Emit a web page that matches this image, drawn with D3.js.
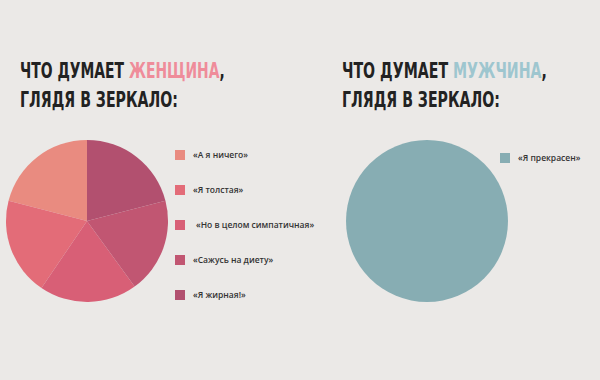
<!DOCTYPE html>
<html>
<head>
<meta charset="utf-8">
<script src="https://cdn.jsdelivr.net/npm/d3@7"></script>
<style>
  html, body { margin: 0; padding: 0; background: #ebe9e7; }
  svg { display: block; }
  .title { font-family: "DejaVu Sans", sans-serif; font-weight: bold; font-size: 22px; fill: #222; }
  .legend text { font-family: "Open Sans", sans-serif; font-weight: 600; font-size: 8.5px; fill: #333; }
</style>
</head>
<body>
<svg id="canvas" width="600" height="380"></svg>
<script>
// left pie: what a woman thinks
const womanLabels = ["«А я ничего»", "«Я толстая»", "«Но в целом симпатичная»", "«Сажусь на диету»", "«Я жирная!»"];
const womanValues = [21, 19.5, 19.5, 19, 21];
const womanColors = ["#e98b80", "#e36c78", "#d85f76", "#c15672", "#b2506f"];

// right pie: what a man thinks
const manLabels = ["«Я прекрасен»"];
const manValues = [100];
const manColors = ["#87adb3"];

const canvas = d3.select("#canvas");

const pie = d3.pie().sort(null).startAngle(2 * Math.PI).endAngle(0);
const arc = d3.arc().innerRadius(0).outerRadius(81);

// the original uses a narrow bold face: squeeze each line horizontally to its width
const squeeze = (g, width) => {
  const w = g.node().getBBox().width;
  g.attr("transform", g.attr("transform") + ` scale(${width / w},1)`);
};

const drawTitle = (x, word, color) => {
  const g1 = canvas.append("g").attr("transform", `translate(${x},78)`);
  const t = g1.append("text").attr("class", "title");
  t.append("tspan").text("ЧТО ДУМАЕТ ");
  t.append("tspan").attr("fill", color).text(word);
  t.append("tspan").text(",");
  squeeze(g1, 205);

  const g2 = canvas.append("g").attr("transform", `translate(${x},107)`);
  g2.append("text").attr("class", "title").text("ГЛЯДЯ В ЗЕРКАЛО:");
  squeeze(g2, 158);
};

const drawPie = (cx, cy, values, colors) => {
  canvas.append("g")
    .attr("transform", `translate(${cx},${cy})`)
    .selectAll("path")
    .data(pie(values))
    .enter()
    .append("path")
    .attr("d", arc)
    .attr("fill", (d, i) => colors[i]);
};

const drawLegend = (x, y, step, labels, colors) => {
  const g = canvas.append("g").attr("class", "legend");
  const rows = g.selectAll("g")
    .data(labels)
    .enter()
    .append("g")
    .attr("transform", (d, i) => `translate(${x},${y + i * step})`);
  rows.append("rect")
    .attr("x", 0).attr("y", -5)
    .attr("width", 10).attr("height", 10)
    .attr("fill", (d, i) => colors[i]);
  rows.append("text")
    .attr("x", (d, i) => (i === 2 ? 21 : 18))
    .attr("y", 3)
    .text((d) => d);
};

drawTitle(20, "ЖЕНЩИНА", "#ef8c9a");
drawTitle(342, "МУЖЧИНА", "#9ec6cf");

drawPie(87, 221, womanValues, womanColors);
drawPie(427, 221, manValues, manColors);

drawLegend(175, 155, 35, womanLabels, womanColors);
drawLegend(500, 158, 35, manLabels, manColors);
</script>
</body>
</html>
